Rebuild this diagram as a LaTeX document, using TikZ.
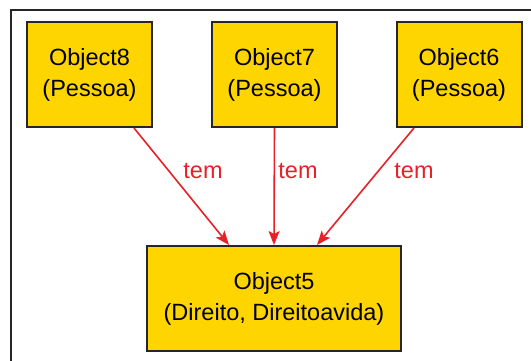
\documentclass[tikz,border=0pt]{standalone}
\usepackage{fontspec}
\setmainfont{Liberation Sans}
\usetikzlibrary{arrows.meta}
\definecolor{boxfill}{RGB}{255,213,0}
\definecolor{edgered}{RGB}{232,32,40}
\tikzset{
  obj/.style={draw=black!85, line width=2pt, fill=boxfill, align=center,
    font=\fontsize{23.5}{31}\selectfont, inner sep=0pt},
  small/.style={obj, minimum width=125pt, minimum height=105pt},
  big/.style={obj, minimum width=254pt, minimum height=105pt},
  rel/.style={draw=edgered, line width=1.6pt, -{Stealth[length=14pt,width=11pt,inset=3pt]}},
  lbl/.style={text=edgered, font=\fontsize{23.5}{28}\selectfont, inner sep=0pt}
}
\begin{document}
\begin{tikzpicture}[x=1pt,y=-1pt]
\useasboundingbox (0,0) rectangle (531,360);
\fill[white] (0,0) rectangle (531,360);
\draw[line width=2pt, black!85] (11,365) -- (11,10) -- (536,10);
\node[small] (o8) at (89.5,74.5) {Object8\\(Pessoa)};
\node[small] (o7) at (274.5,74.5) {Object7\\(Pessoa)};
\node[small] (o6) at (459,74.5) {Object6\\(Pessoa)};
\node[big] (o5) at (274,298.5) {Object5\\(Direito, Direitoavida)};
\draw[rel] ([xshift=44.5pt]o8.south) -- ([xshift=-45pt]o5.north);
\draw[rel] (o7.south) -- ([xshift=0pt]o5.north);
\draw[rel] ([xshift=-45pt]o6.south) -- ([xshift=43pt]o5.north);
\node[lbl] (l8) at (203,171) {tem};
\node[lbl] (l7) at (298,171) {tem};
\node[lbl] (l6) at (414,171) {tem};
\end{tikzpicture}
\end{document}
